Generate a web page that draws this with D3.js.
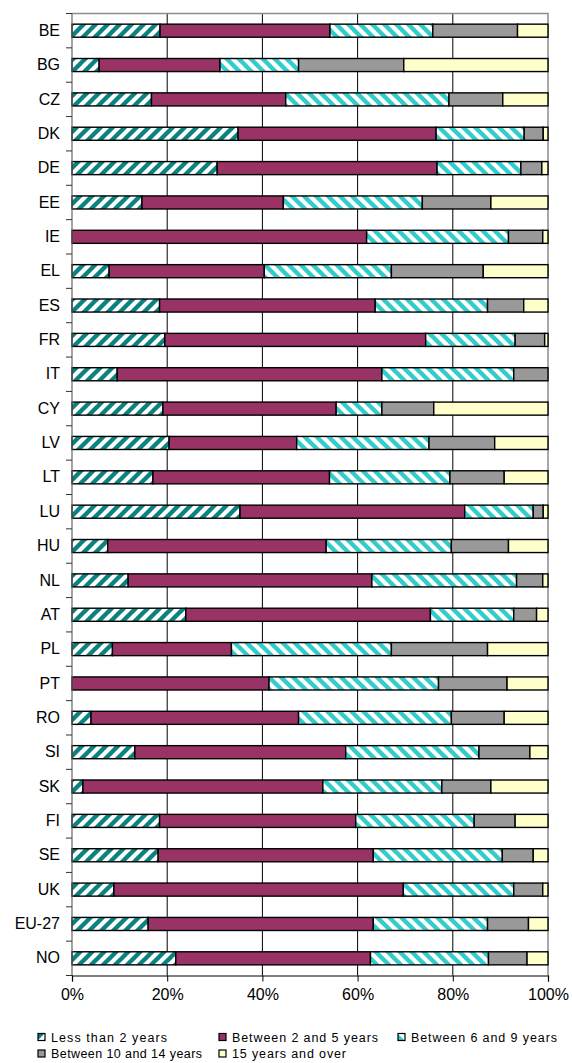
<!DOCTYPE html>
<html>
<head>
<meta charset="utf-8">
<script src="https://cdn.jsdelivr.net/npm/d3@7"></script>
<style>
  html, body { margin: 0; padding: 0; background: #fff; }
  svg { display: block; font-family: "Liberation Sans", Arial, sans-serif; }
</style>
</head>
<body>
<svg id="chart" width="572" height="1063"></svg>
<script>
const categories = ["BE","BG","CZ","DK","DE","EE","IE","EL","ES","FR","IT","CY","LV","LT","LU","HU","NL","AT","PL","PT","RO","SI","SK","FI","SE","UK","EU-27","NO"];
const lessThan2      = [18.5, 5.7,16.7,34.9,30.5,14.7, 0.0, 7.8,18.4,19.5, 9.5,19.1,20.4,17.0,35.3, 7.5,11.8,23.9, 8.5, 0.0, 4.0,13.2, 2.3,18.4,18.1, 8.8,16.0,21.8];
const between2and5   = [35.7,25.4,28.2,41.6,46.2,29.7,61.9,32.6,45.3,54.8,55.6,36.4,26.8,37.1,47.2,45.9,51.2,51.4,25.0,41.4,43.6,44.3,50.4,41.2,45.2,60.8,47.3,40.9];
const between6and9   = [21.6,16.5,34.3,18.5,17.6,29.2,29.8,26.7,23.6,18.8,27.7, 9.6,27.8,25.3,14.4,26.3,30.4,17.5,33.6,35.6,32.1,28.0,25.0,24.9,27.1,23.2,24.0,24.8];
const between10and14 = [17.8,22.1,11.3, 4.0, 4.4,14.4, 7.2,19.3, 7.6, 6.2, 7.2,10.9,13.8,11.4, 2.1,12.0, 5.5, 4.8,20.2,14.4,11.1,10.7,10.3, 8.6, 6.5, 6.1, 8.6, 8.1];
const over15         = [ 6.4,30.3, 9.5, 1.0, 1.3,12.0, 1.1,13.6, 5.1, 0.7, 0.0,24.0,11.2, 9.2, 1.0, 8.3, 1.1, 2.4,12.7, 8.6, 9.2, 3.8,12.0, 6.9, 3.1, 1.1, 4.1, 4.4];
const seriesNames = ["Less than 2 years","Between 2 and 5 years","Between 6 and 9 years","Between 10 and 14 years","15 years and over"];
const tickValues = [0, 0.2, 0.4, 0.6, 0.8, 1.0];

const seriesArrays = [lessThan2, between2and5, between6and9, between10and14, over15];
const keys = ["s0","s1","s2","s3","s4"];
const rows = categories.map((c, i) => {
  const r = { cat: c };
  keys.forEach((k, j) => r[k] = seriesArrays[j][i]);
  return r;
});

const svg = d3.select("#chart");
const defs = svg.append("defs");

function stripePattern(id, color, dir) {
  const s = 12;
  const p = defs.append("pattern")
    .attr("id", id)
    .attr("patternUnits", "userSpaceOnUse")
    .attr("width", s).attr("height", s);
  p.append("rect").attr("width", s).attr("height", s).attr("fill", "#fff");
  const d = dir === "up"
    ? `M-4,4 L4,-4 M0,${s} L${s},0 M${s-4},${s+4} L${s+4},${s-4}`
    : `M-4,${s-4} L4,${s+4} M0,0 L${s},${s} M${s-4},-4 L${s+4},4`;
  p.append("path").attr("d", d).attr("stroke", color).attr("stroke-width", 4.4);
}
stripePattern("pat0", "#0b8282", "up");
stripePattern("pat2", "#33cccc", "down");

const fills = ["url(#pat0)", "#993366", "url(#pat2)", "#999999", "#ffffcc"];

const plotLeft = 72, plotRight = 548, plotTop = 13.5, plotBottom = 975.5;
const x = d3.scaleLinear().domain([0, 1]).range([plotLeft, plotRight]);
const pin = 0.62;
const y = d3.scaleBand().domain(categories).range([plotTop, plotBottom])
  .paddingInner(pin).paddingOuter(pin / 2);

svg.append("g")
  .selectAll("line")
  .data(tickValues.filter(v => v > 0 && v < 1))
  .join("line")
  .attr("x1", d => x(d)).attr("x2", d => x(d))
  .attr("y1", plotTop).attr("y2", plotBottom)
  .attr("stroke", "#000").attr("stroke-width", 1);

svg.append("path")
  .attr("d", `M${plotLeft},${plotTop}H${plotRight}V${plotBottom}`)
  .attr("fill", "none").attr("stroke", "#8c8c8c").attr("stroke-width", 1.5);

const stack = d3.stack().keys(keys).offset(d3.stackOffsetExpand);
const stacked = stack(rows);

svg.append("g")
  .selectAll("g")
  .data(stacked)
  .join("g")
  .attr("fill", (d, i) => fills[i])
  .selectAll("rect")
  .data(d => d.filter(s => s[1] - s[0] > 0))
  .join("rect")
  .attr("x", d => x(d[0]))
  .attr("width", d => x(d[1]) - x(d[0]))
  .attr("y", d => y(d.data.cat))
  .attr("height", y.bandwidth())
  .attr("stroke", "#000")
  .attr("stroke-width", 1.4);

const step = y.step();
const boundaries = d3.range(categories.length + 1).map(i => plotTop + i * step);
svg.append("line")
  .attr("x1", plotLeft).attr("x2", plotLeft).attr("y1", plotTop).attr("y2", plotBottom)
  .attr("stroke", "#666").attr("stroke-width", 1.2);
svg.append("g")
  .selectAll("line")
  .data(boundaries)
  .join("line")
  .attr("x1", plotLeft - 6).attr("x2", plotLeft)
  .attr("y1", d => d).attr("y2", d => d)
  .attr("stroke", "#333").attr("stroke-width", 1);

const yAxis = svg.append("g")
  .attr("transform", `translate(${plotLeft},0)`)
  .call(d3.axisLeft(y).tickSize(0).tickPadding(12));
yAxis.select(".domain").remove();
yAxis.selectAll("text")
  .attr("font-family", "Liberation Sans, Arial, sans-serif")
  .attr("font-size", 16)
  .attr("fill", "#000");

const xAxis = svg.append("g")
  .attr("transform", `translate(0,${plotBottom})`)
  .call(d3.axisBottom(x).tickValues(tickValues).tickFormat(d3.format(".0%")).tickSize(6).tickPadding(7));
xAxis.select(".domain").attr("stroke", "#000").attr("stroke-width", 1.2);
xAxis.selectAll(".tick line").attr("stroke", "#000");
xAxis.selectAll("text")
  .attr("font-family", "Liberation Sans, Arial, sans-serif")
  .attr("font-size", 16)
  .attr("fill", "#000");

const legendItems = [
  { i: 0, x: 38, y: 1037, w: 116 },
  { i: 1, x: 219, y: 1037, w: 146 },
  { i: 2, x: 398, y: 1037, w: 146 },
  { i: 3, x: 38, y: 1053.5, w: 151 },
  { i: 4, x: 219, y: 1053.5, w: 114 }
];
const lg = svg.append("g");
const li = lg.selectAll("g").data(legendItems).join("g")
  .attr("transform", d => `translate(${d.x},${d.y})`);
li.append("rect")
  .attr("x", 0).attr("y", -3.5).attr("width", 7).attr("height", 7)
  .attr("fill", d => fills[d.i]).attr("stroke", "#000").attr("stroke-width", 1.2);
li.append("text")
  .attr("x", 13).attr("y", 0).attr("dy", "0.36em")
  .attr("font-size", 12.5)
  .attr("textLength", d => d.w)
  .attr("lengthAdjust", "spacing")
  .attr("fill", "#000")
  .text(d => seriesNames[d.i]);
</script>
</body>
</html>
